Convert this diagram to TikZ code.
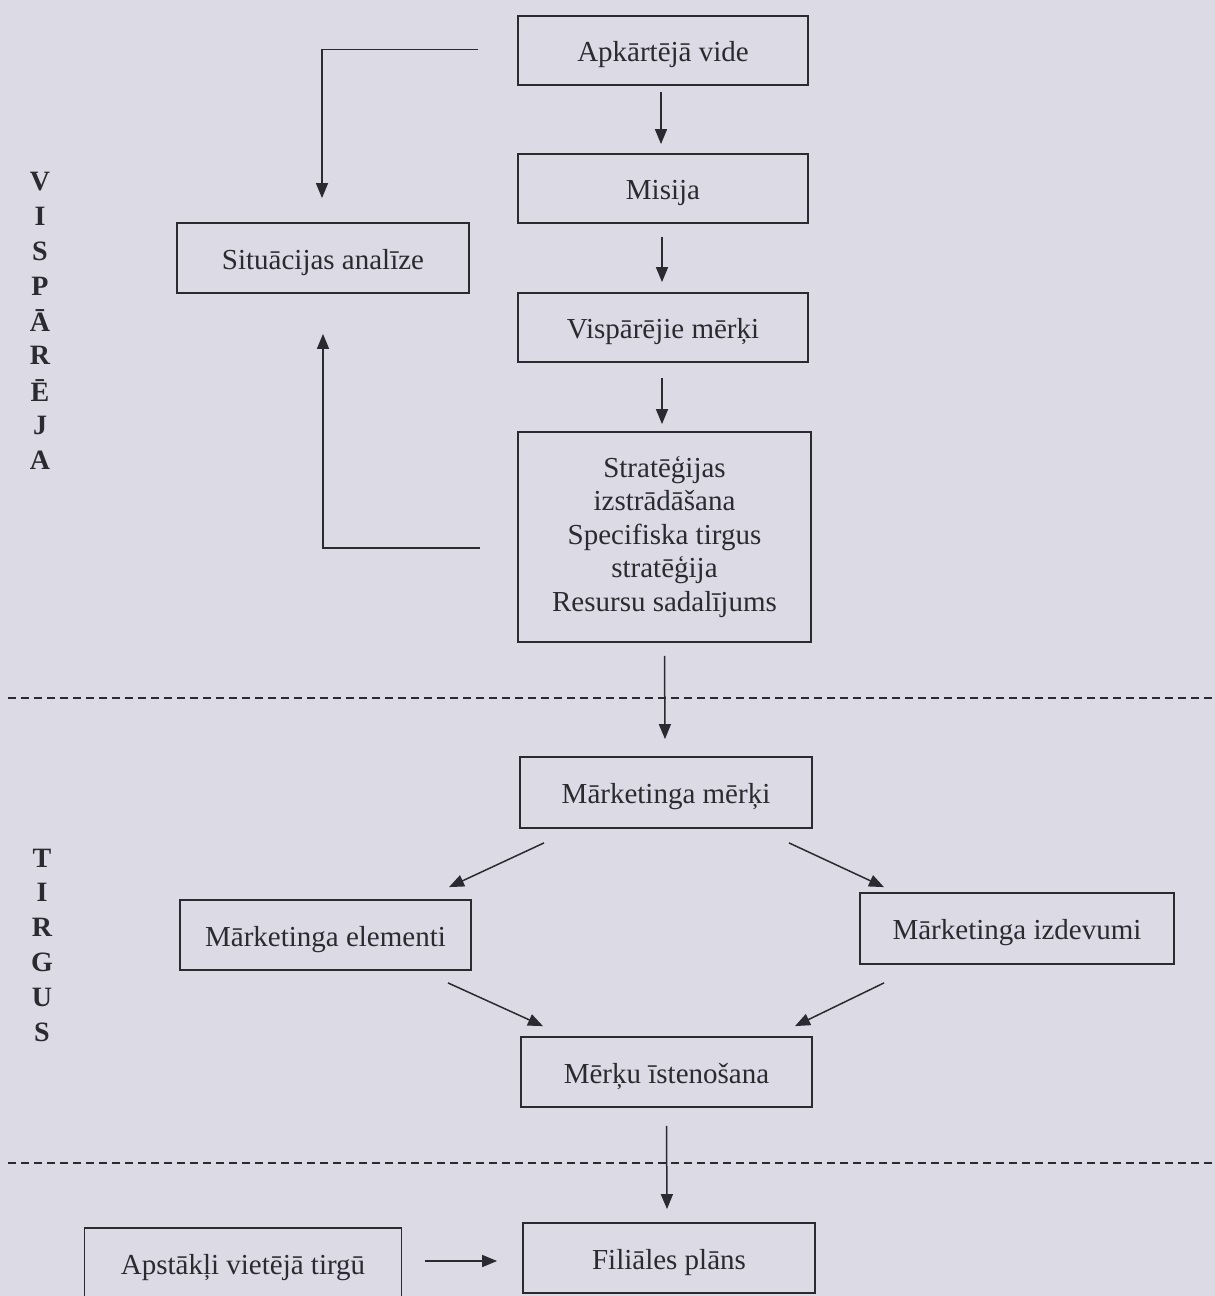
\documentclass[tikz,border=0pt]{standalone}
\usepackage{fontspec}
\setmainfont{Liberation Serif}
\usetikzlibrary{arrows.meta}
\definecolor{paper}{RGB}{219,218,229}
\definecolor{ink}{RGB}{42,42,48}
\begin{document}
\begin{tikzpicture}[x=1pt,y=-1pt,
  box/.style={draw=ink, line width=1.8pt, minimum width=290pt, minimum height=69pt,
    inner sep=0pt, align=center, text=ink, font=\fontsize{29}{34}\selectfont},
  oneline/.style={box, text height=24pt, text depth=2pt},
  arr/.style={draw=ink, line width=1.5pt, -{Triangle[length=15pt,width=12pt]}},
  divider/.style={draw=ink, line width=1.4pt, dash pattern=on 8pt off 5pt},
  side/.style={text=ink, inner sep=0pt, font=\fontsize{28}{28}\selectfont\bfseries}]
  % page
  \fill[paper] (0,0) rectangle (1215,1296);
  \useasboundingbox (0,0) rectangle (1215,1296);

  % general level
  \node[oneline] (env)   at (663,50.5)  {Apkārtējā vide};
  \node[oneline] (mis)   at (663,188.5) {Misija};
  \node[oneline, minimum width=292pt, minimum height=70pt] (sit) at (323,258) {Situācijas analīze};
  \node[oneline] (gen)   at (663,327.5) {Vispārējie mērķi};
  \node[box, minimum width=293pt, minimum height=210pt,
        font=\fontsize{29}{33.5}\selectfont] (strat) at (664.5,537)
    {\rule{0pt}{8pt}Stratēģijas\\izstrādāšana\\Specifiska tirgus\\stratēģija\\Resursu sadalījums};

  % market level
  \node[oneline, minimum width=292pt, minimum height=71pt] (mgoal) at (666,792.5) {Mārketinga mērķi};
  \node[oneline, minimum width=291pt, minimum height=70pt] (melem) at (325.5,935) {Mārketinga elementi};
  \node[oneline, minimum width=314pt, minimum height=71pt] (mexp)  at (1017,928.5) {Mārketinga izdevumi};
  \node[oneline, minimum width=291pt, minimum height=70pt] (impl)  at (666.5,1072) {Mērķu īstenošana};

  % branch level
  \node[oneline, minimum width=317pt, minimum height=70pt] (local)  at (243,1263) {Apstākļi vietējā tirgū};
  \node[oneline, minimum width=292pt, minimum height=70pt] (branch) at (669,1258) {Filiāles plāns};

  % level dividers
  \draw[divider] (8,698) -- (1215,698);
  \draw[divider] (8,1163) -- (1215,1163);

  % side labels
  \foreach \ch [count=\i from 0] in {V,I,S,P,Ā,R,Ē,J,A}
    \node[side] at (40,182+34.75*\i) {\ch};
  \foreach \ch [count=\i from 0] in {T,I,R,G,U,S}
    \node[side] at (42,858+34.8*\i) {\ch};

  % main chain
  \draw[arr] ([shift={(-2,6)}]env.south)  -- ([shift={(-2,-9)}]mis.north);
  \draw[arr] ([shift={(-1,13)}]mis.south) -- ([shift={(-1,-10)}]gen.north);
  \draw[arr] ([shift={(-1,15)}]gen.south) -- ([shift={(-2.5,-7)}]strat.north);
  \draw[arr] ([shift={(0,13)}]strat.south) -- ([shift={(-1,-17)}]mgoal.north);
  \draw[arr] ([shift={(0,18)}]impl.south) -- ([shift={(-2,-13)}]branch.north);

  % feedback to situation analysis
  \draw[arr] ([shift={(-39,-1)}]env.west) -| ([shift={(-1,-24)}]sit.north);
  \draw[arr] ([shift={(-37,11)}]strat.west) -| ([shift={(0,40)}]sit.south);

  % marketing branch
  \draw[arr] ([shift={(-122,14)}]mgoal.south) -- ([shift={(123.5,-12)}]melem.north);
  \draw[arr] ([shift={(123,14)}]mgoal.south)  -- ([shift={(-133,-5)}]mexp.north);
  \draw[arr] ([shift={(122.5,12)}]melem.south) -- ([shift={(-123.5,-10)}]impl.north);
  \draw[arr] ([shift={(-133,18)}]mexp.south)   -- ([shift={(128.5,-10)}]impl.north);

  % local conditions into branch plan
  \draw[arr] ([shift={(23,-2)}]local.east) -- ([shift={(-25,3)}]branch.west);
\end{tikzpicture}
\end{document}
